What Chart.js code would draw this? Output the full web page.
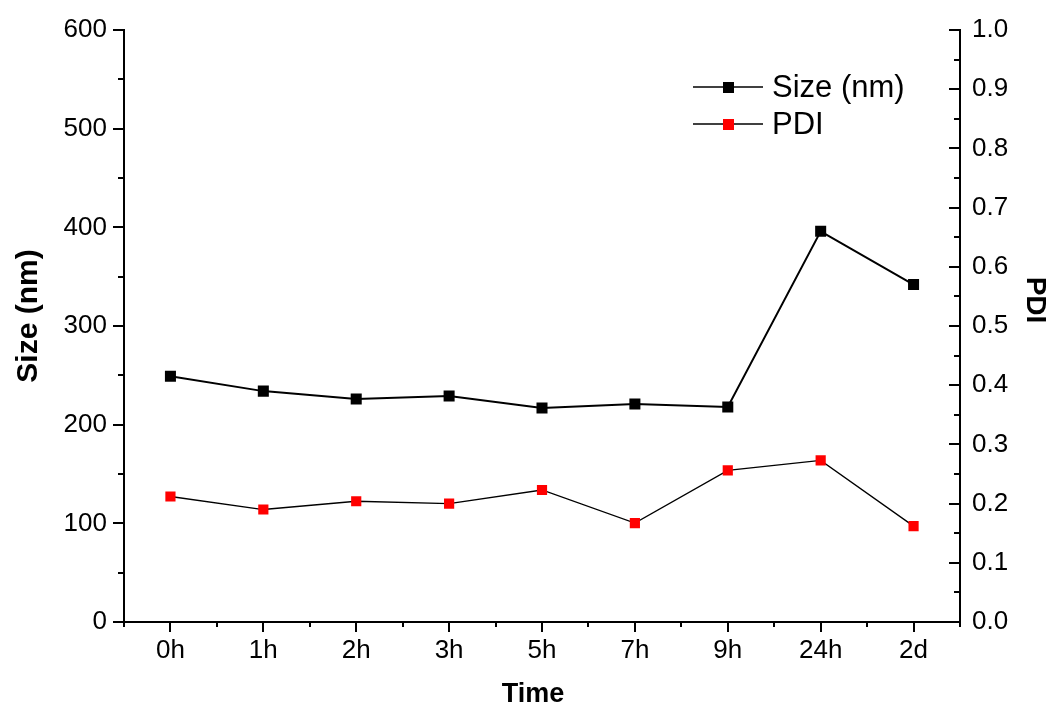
<!DOCTYPE html>
<html>
<head>
<meta charset="utf-8">
<script src="https://cdn.jsdelivr.net/npm/chart.js@4.4.1/dist/chart.umd.min.js"></script>
<style>
  html, body { margin: 0; padding: 0; background: #fff; }
  #wrap { width: 1050px; height: 710px; }
</style>
</head>
<body>
<div id="wrap"><canvas id="chart" width="1050" height="710"></canvas></div>
<script>
// data
const timeLabels = ['0h', '1h', '2h', '3h', '5h', '7h', '9h', '24h', '2d'];
const sizeNm = [249, 234, 226, 229, 217, 221, 218, 396, 342];
const pdi = [0.212, 0.190, 0.204, 0.200, 0.223, 0.167, 0.256, 0.273, 0.162];

const FONT = "'Liberation Sans', Arial, sans-serif";

// axis ticks in Origin style: left/bottom outward, right inward, plus minor ticks
const originTicks = {
  id: 'originTicks',
  afterDraw(chart) {
    const ctx = chart.ctx;
    const a = chart.chartArea;
    const y = chart.scales.y, y1 = chart.scales.y1, x = chart.scales.x;
    ctx.save();
    ctx.strokeStyle = '#000';
    ctx.lineWidth = 2;
    ctx.beginPath();
    // left axis
    for (let v = 0; v <= 600; v += 50) {
      const p = Math.round(y.getPixelForValue(v));
      const len = v % 100 === 0 ? 11 : 6;
      ctx.moveTo(a.left, p); ctx.lineTo(a.left - len, p);
    }
    // right axis, ticks inward
    for (let i = 0; i <= 20; i++) {
      const p = Math.round(y1.getPixelForValue(i * 0.05));
      const len = i % 2 === 0 ? 11 : 6;
      ctx.moveTo(a.right, p); ctx.lineTo(a.right - len, p);
    }
    // bottom axis
    const n = timeLabels.length;
    for (let i = 0; i < n; i++) {
      const p = Math.round(x.getPixelForValue(i));
      ctx.moveTo(p, a.bottom); ctx.lineTo(p, a.bottom + 10);
    }
    const step = (a.right - a.left) / n;
    for (let i = 0; i <= n; i++) {
      const p = Math.round(a.left + i * step);
      ctx.moveTo(p, a.bottom); ctx.lineTo(p, a.bottom + 5);
    }
    ctx.stroke();
    ctx.restore();
  }
};

// axis titles placed like the original (PDI sits a bit above centre)
const axisTitles = {
  id: 'axisTitles',
  afterDraw(chart) {
    const ctx = chart.ctx;
    ctx.save();
    ctx.fillStyle = '#000';
    ctx.textAlign = 'center';
    ctx.textBaseline = 'middle';

    ctx.font = 'bold 27px ' + FONT;
    ctx.fillText('Time', 533, 695);

    ctx.save();
    ctx.translate(29, 316);
    ctx.rotate(-Math.PI / 2);
    ctx.font = 'bold 30px ' + FONT;
    ctx.fillText('Size (nm)', 0, 0);
    ctx.restore();

    ctx.save();
    ctx.translate(1035, 300);
    ctx.rotate(Math.PI / 2);
    ctx.font = 'bold 28px ' + FONT;
    ctx.fillText('PDI', 0, 0);
    ctx.restore();

    ctx.restore();
  }
};

// legend: line with marker, then the label
const originLegend = {
  id: 'originLegend',
  afterDraw(chart) {
    const ctx = chart.ctx;
    ctx.save();
    chart.data.datasets.forEach((ds, i) => {
      const yy = 87 + i * 37;
      ctx.strokeStyle = '#000';
      ctx.lineWidth = 1.5;
      ctx.beginPath();
      ctx.moveTo(693, yy); ctx.lineTo(763, yy);
      ctx.stroke();
      ctx.fillStyle = ds.pointBackgroundColor;
      ctx.fillRect(723, yy - 5, 11, 11);
      ctx.fillStyle = '#000';
      ctx.font = '31px ' + FONT;
      ctx.textBaseline = 'middle';
      ctx.fillText(ds.label, 772, yy + 1);
    });
    ctx.restore();
  }
};

const noPad = s => { s.paddingTop = 0; s.paddingBottom = 0; };

new Chart(document.getElementById('chart'), {
  type: 'line',
  data: {
    labels: timeLabels,
    datasets: [{
      label: 'Size (nm)',
      data: sizeNm,
      yAxisID: 'y',
      borderColor: '#000',
      borderWidth: 2,
      pointStyle: 'rect',
      pointRadius: 7.8,
      pointBackgroundColor: '#000',
      pointBorderWidth: 0,
      tension: 0
    }, {
      label: 'PDI',
      data: pdi,
      yAxisID: 'y1',
      borderColor: '#000',
      borderWidth: 1.3,
      pointStyle: 'rect',
      pointRadius: 7.2,
      pointBackgroundColor: '#ff0000',
      pointBorderWidth: 0,
      tension: 0
    }]
  },
  options: {
    responsive: false,
    animation: false,
    layout: { padding: { top: 30, left: 0, right: 0, bottom: 0 } },
    plugins: {
      legend: { display: false },
      tooltip: { enabled: false }
    },
    scales: {
      x: {
        offset: true,
        grid: { display: false, drawTicks: false },
        border: { display: true, color: '#000', width: 2 },
        ticks: { color: '#000', font: { family: FONT, size: 26 }, padding: 13, maxRotation: 0 },
        afterFit: s => { s.height = 88; s.paddingLeft = 0; s.paddingRight = 0; }
      },
      y: {
        position: 'left',
        min: 0, max: 600,
        grid: { display: false, drawTicks: false },
        border: { display: true, color: '#000', width: 2 },
        ticks: { stepSize: 100, color: '#000', font: { family: FONT, size: 26 }, padding: 17 },
        afterFit: s => { s.width = 124; noPad(s); }
      },
      y1: {
        position: 'right',
        min: 0, max: 1,
        grid: { display: false, drawTicks: false },
        border: { display: true, color: '#000', width: 2 },
        ticks: { stepSize: 0.1, color: '#000', font: { family: FONT, size: 26 }, padding: 12,
                 callback: v => v.toFixed(1) },
        afterFit: s => { s.width = 90; noPad(s); }
      }
    }
  },
  plugins: [originTicks, axisTitles, originLegend]
});
</script>
</body>
</html>
